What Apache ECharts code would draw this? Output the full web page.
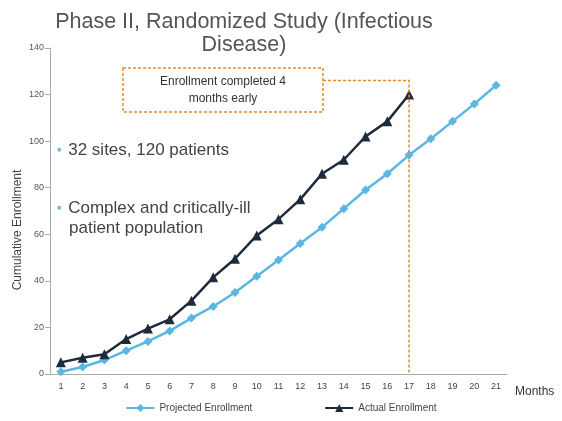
<!DOCTYPE html>
<html>
<head>
<meta charset="utf-8">
<script src="https://cdn.jsdelivr.net/npm/echarts@6/dist/echarts.min.js"></script>
<style>
	html, body { margin: 0; padding: 0; background: #fff; }
	#main { width: 562px; height: 421px; }
</style>
</head>
<body>
<div id="main"></div>
<script>
var months = ['1', '2', '3', '4', '5', '6', '7', '8', '9', '10', '11', '12', '13', '14', '15', '16', '17', '18', '19', '20', '21'];
var projected = [1, 3, 6, 10, 14, 18.5, 24, 29, 35, 42, 49, 56, 63, 71, 79, 86, 94, 101, 108.5, 116, 124];
var actual = [5, 7, 8.5, 15, 19.5, 23.5, 31.5, 41.5, 49.5, 59.5, 66.5, 75, 86, 92, 102, 108.5, 120];
var yTicks = { min: 0, max: 140, step: 20 };
var doneMonth = '17';
var doneLevel = 126; // height of the dotted guide from the note box

var chart = echarts.init(document.getElementById('main'));
var font = 'Liberation Sans, Arial, sans-serif';

var option = {
	backgroundColor: '#fff',
	animation: false,
	title: {
		text: 'Phase II, Randomized Study (Infectious\nDisease)',
		left: 239,
		top: 6,
		textAlign: 'center',
		textStyle: {
			fontFamily: font,
			fontSize: 21.5,
			fontWeight: 'normal',
			color: '#555',
			lineHeight: 23
		}
	},
	legend: {
		bottom: 3,
		left: 'center',
		itemGap: 72,
		itemWidth: 28,
		itemHeight: 10,
		textStyle: { fontFamily: font, fontSize: 10, color: '#444' },
		data: ['Projected Enrollment', 'Actual Enrollment']
	},
	grid: { left: 50, right: 55, top: 48, bottom: 47 },
	xAxis: {
		type: 'category',
		data: months,
		name: 'Months',
		nameLocation: 'end',
		nameGap: 8,
		nameTextStyle: { fontFamily: font, fontSize: 12, color: '#333', verticalAlign: 'top', padding: [12, 0, 0, 0] },
		axisLine: { lineStyle: { color: '#aaa' } },
		axisTick: { lineStyle: { color: '#aaa' } },
		axisLabel: { fontFamily: font, fontSize: 9, color: '#444', margin: 8 }
	},
	yAxis: {
		type: 'value',
		min: yTicks.min,
		max: yTicks.max,
		interval: yTicks.step,
		axisLine: { show: true, lineStyle: { color: '#aaa' } },
		axisTick: { show: true, lineStyle: { color: '#aaa' } },
		splitLine: { show: false },
		axisLabel: { fontFamily: font, fontSize: 9, color: '#555', margin: 6 }
	},
	series: [
		{
			name: 'Projected Enrollment',
			type: 'line',
			data: projected,
			symbol: 'diamond',
			symbolSize: 9,
			itemStyle: { color: '#5ab6e2' },
			lineStyle: { width: 2.5, color: '#5ab6e2' },
			z: 2
		},
		{
			name: 'Actual Enrollment',
			type: 'line',
			data: actual,
			symbol: 'triangle',
			symbolSize: 10,
			itemStyle: { color: '#1d2b3c' },
			lineStyle: { width: 2.5, color: '#1d2b3c' },
			z: 3
		}
	]
};

chart.setOption(option);

// note box, guide line, y axis title and bullet text
var guideTop = chart.convertToPixel({ gridIndex: 0 }, [doneMonth, doneLevel]);
var guideBottom = chart.convertToPixel({ gridIndex: 0 }, [doneMonth, 0]);
var dashColor = '#e58b2b';
var bulletRich = {
	b: { fontSize: 7, fill: '#6cbcd8', fontFamily: font, padding: [0, 7, 0, 0] },
	t: { fontSize: 17, fill: '#444', fontFamily: font, lineHeight: 22 }
};

function bulletLine(y, text) {
	return {
		type: 'text',
		silent: true,
		x: 57,
		y: y,
		style: { text: text, rich: bulletRich },
		z: 12
	};
}

chart.setOption({
	graphic: [
		{
			type: 'text',
			silent: true,
			x: 18,
			y: 230,
			rotation: Math.PI / 2,
			style: {
				text: 'Cumulative Enrollment',
				font: '12px ' + font,
				fill: '#444',
				align: 'center',
				verticalAlign: 'middle'
			}
		},
		{
			type: 'polyline',
			silent: true,
			shape: { points: [[323, guideTop[1]], [guideTop[0], guideTop[1]], [guideBottom[0], guideBottom[1]]] },
			style: { stroke: dashColor, lineWidth: 1.5, lineDash: [3, 2], fill: 'none' },
			z: 10
		},
		{
			type: 'rect',
			silent: true,
			shape: { x: 123, y: 68, width: 200, height: 44 },
			style: { stroke: dashColor, lineWidth: 1.5, lineDash: [3, 2], fill: '#fff' },
			z: 11
		},
		{
			type: 'text',
			silent: true,
			x: 223,
			y: 90,
			style: {
				text: 'Enrollment completed 4\nmonths early',
				font: '12px ' + font,
				fill: '#333',
				align: 'center',
				verticalAlign: 'middle',
				lineHeight: 17
			},
			z: 12
		},
		bulletLine(139, '{b|■}{t|32 sites, 120 patients}'),
		bulletLine(197, '{b|■}{t|Complex and critically-ill}'),
		{
			type: 'text',
			silent: true,
			x: 69,
			y: 220,
			style: { text: 'patient population', font: '17px ' + font, fill: '#444' },
			z: 12
		}
	]
});
</script>
</body>
</html>
